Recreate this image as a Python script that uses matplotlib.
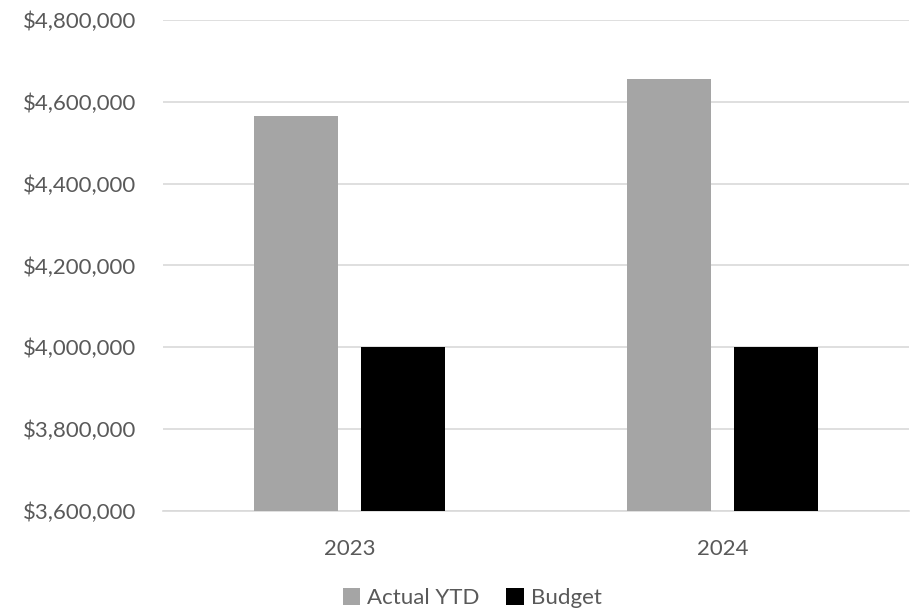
import numpy as np
import matplotlib.pyplot as plt
from matplotlib.ticker import FuncFormatter

years = ["2023", "2024"]
actual_ytd = [4566000, 4656000]
budget = [4000000, 4000000]

plt.rcParams['font.family'] = ['Lato', 'DejaVu Sans']
text_color = '#595959'

fig = plt.figure(figsize=(9.13, 6.11), dpi=100)
ax = fig.add_axes([0.1785, 0.164, 0.817, 0.803])

x = np.arange(len(years))
w = 0.224
off = 0.143
ax.bar(x - off, np.array(actual_ytd) - 3600000, w, bottom=3600000, color='#a5a5a5', label='Actual YTD', zorder=3)
ax.bar(x + off, np.array(budget) - 3600000, w, bottom=3600000, color='#000000', label='Budget', zorder=3)

ax.set_xlim(-0.5, 1.5)
ax.set_ylim(3600000, 4800000)
ax.set_yticks(np.arange(3600000, 4800001, 200000))
ax.yaxis.set_major_formatter(FuncFormatter(lambda v, p: f"${v:,.0f}"))
ax.set_xticks(x)
ax.set_xticklabels(years)

ax.grid(axis='y', color='#d9d9d9', linewidth=1.2, zorder=0)
for s in ['top', 'right', 'left']:
    ax.spines[s].set_visible(False)
ax.spines['bottom'].set_color('#d9d9d9')
ax.spines['bottom'].set_linewidth(1.2)
ax.tick_params(axis='both', length=0, labelsize=16, colors=text_color)
ax.tick_params(axis='y', pad=19)
ax.tick_params(axis='x', pad=20)

leg = fig.legend(loc='lower center', bbox_to_anchor=(0.517, -0.028), ncol=2, frameon=False,
                 fontsize=16, handlelength=0.8, handleheight=0.8, handletextpad=0.3, columnspacing=1.2)
for t in leg.get_texts():
    t.set_color(text_color)

fig.savefig('out.png', dpi=100)
